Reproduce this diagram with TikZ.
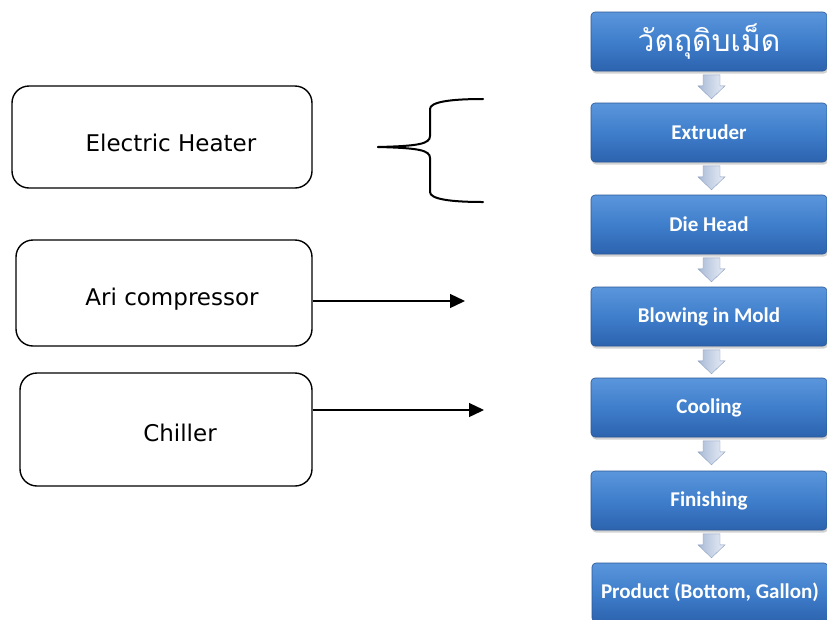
\documentclass[tikz,border=0pt]{standalone}
\usepackage{fontspec}
\setmainfont{DejaVu Sans}
\newfontfamily\calfont{Carlito}
\newfontfamily\thaifont[Script=Thai]{Loma}
\usetikzlibrary{arrows.meta,shadows,calc}
\definecolor{boxtop}{HTML}{5B96DC}
\definecolor{boxmid}{HTML}{3F7ECB}
\definecolor{boxbot}{HTML}{2C63AE}
\definecolor{boxedge}{HTML}{2A5796}
\definecolor{arrL}{HTML}{A9BAD6}
\definecolor{arrR}{HTML}{E9EEF7}
\definecolor{arrE}{HTML}{8A9DC0}
\begin{document}
\begin{tikzpicture}[x=1pt,y=-1pt,
  srcbox/.style={draw=black,line width=1.4pt,rounded corners=17pt,fill=white},
  srctext/.style={font=\fontsize{23}{26}\selectfont,text=black},
  stagebox/.style={draw=boxedge,line width=0.6pt,rounded corners=4pt,
    top color=boxtop,bottom color=boxbot,middle color=boxmid,
    minimum width=236pt,minimum height=59pt,inner sep=0pt,
    drop shadow={shadow xshift=1pt,shadow yshift=-2.5pt,opacity=0.35},
    text=white,font=\calfont\bfseries\fontsize{21}{24}\selectfont},
  link/.style={line width=1.3pt,-{Triangle[length=15pt,width=14pt]}},
  bracepath/.style={line width=2pt,line cap=round}
]
\useasboundingbox (0,0) rectangle (827,619);
\fill[white] (0,0) rectangle (827,619);

% left source boxes
\node[srcbox,minimum width=300pt,minimum height=102pt] (EH) at (162,137) {};
\node[srcbox,minimum width=296pt,minimum height=106pt] (AC) at (164,293) {};
\node[srcbox,minimum width=292pt,minimum height=113pt] (CH) at (166,429.5) {};
\node[srctext] (EHt) at (171,143) {Electric Heater};
\node[srctext] (ACt) at (172,299) {Ari compressor};
\node[srctext] (CHt) at (180,433) {Chiller};

% brace
\coordinate (bt) at (378,147);
\coordinate (bu) at (483,99);
\coordinate (bl) at (483,202);
\draw[bracepath] (bt) .. controls (418,146) and (430,144) .. (430,136)
  -- (430,109) .. controls (430,102) and (450,99) .. (bu);
\draw[bracepath] (bt) .. controls (418,148) and (430,150) .. (430,158)
  -- (430,192) .. controls (430,199) and (450,202) .. (bl);

% arrows
\coordinate (ACend) at (465,301);
\coordinate (CHend) at (484,410);
\draw[link] (AC.east |- ACend) -- (ACend);
\draw[link] (CH.east |- CHend) -- (CHend);

% stage boxes
\node[stagebox] (s1) at (709,41.5) {\thaifont\mdseries\fontsize{30}{34}\selectfont วัตถุดิบเม็ด};
\node[stagebox] (s2) at (709,132.5) {Extruder};
\node[stagebox] (s3) at (709,224.5) {Die Head};
\node[stagebox] (s4) at (709,316.5) {Blowing in Mold};
\node[stagebox] (s5) at (709,407.5) {Cooling};
\node[stagebox] (s6) at (709,500.5) {Finishing};
\node[stagebox] (s7) at (710,592.5) {Product (Bottom, Gallon)};

% small down arrows between stages
\foreach \a/\b in {s1/s2,s2/s3,s3/s4,s4/s5,s5/s6,s6/s7}{
  \coordinate (t) at ($(\a.south)+(2.5,3.5)$);
  \shade[left color=arrL,right color=arrR,draw=arrE,line width=0.4pt]
    ($(t)+(-8.5,0)$) -- ($(t)+(8.5,0)$) -- ($(t)+(8.5,11)$) -- ($(t)+(13.5,11)$)
    -- ($(t)+(0,24)$) -- ($(t)+(-13.5,11)$) -- ($(t)+(-8.5,11)$) -- cycle;
}
\end{tikzpicture}
\end{document}
